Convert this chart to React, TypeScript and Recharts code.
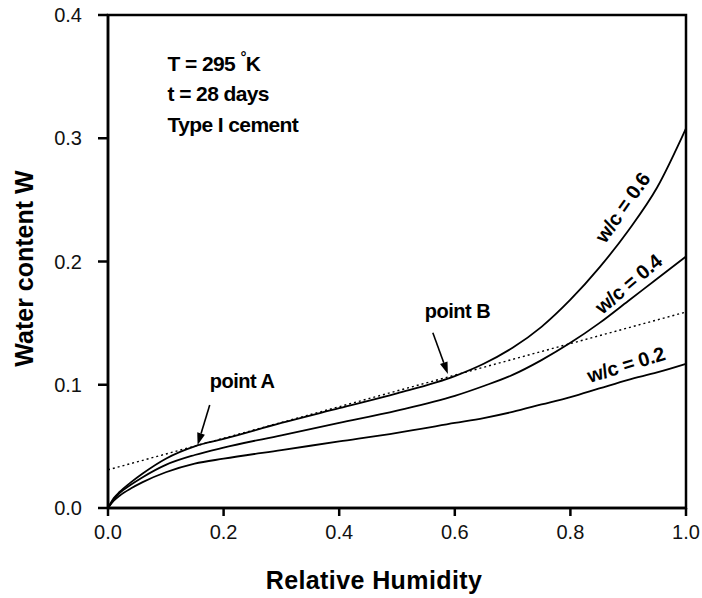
import { Line, LineChart, ReferenceArea, ReferenceDot, ReferenceLine, XAxis, YAxis, Label } from "recharts";

// relative humidity sample points
const humidity = [0, 0.01, 0.02, 0.04, 0.06, 0.1, 0.15, 0.2, 0.3, 0.4, 0.5, 0.6, 0.65, 0.7, 0.75, 0.8, 0.85, 0.9, 0.95, 1.0];
// water content W for each w/c ratio
const wc06 = [0, 0.008, 0.013, 0.021, 0.028, 0.04, 0.05, 0.056, 0.069, 0.081, 0.093, 0.107, 0.117, 0.13, 0.147, 0.169, 0.195, 0.225, 0.26, 0.308];
const wc04 = [0, 0.007, 0.012, 0.019, 0.025, 0.035, 0.043, 0.049, 0.059, 0.069, 0.079, 0.091, 0.099, 0.108, 0.12, 0.134, 0.15, 0.168, 0.186, 0.204];
const wc02 = [0, 0.006, 0.01, 0.016, 0.021, 0.029, 0.036, 0.04, 0.047, 0.054, 0.061, 0.069, 0.073, 0.078, 0.084, 0.09, 0.097, 0.104, 0.11, 0.117];
// dotted tangent line
const tangentRh = [0, 1];
const tangentW = [0.031, 0.159];

const xTicks = [0, 0.2, 0.4, 0.6, 0.8, 1.0];
const yTicks = [0, 0.1, 0.2, 0.3, 0.4];

const rows = humidity.map((rh, i) => ({ rh, wc06: wc06[i], wc04: wc04[i], wc02: wc02[i] }));
const tangent = tangentRh.map((rh, i) => ({ rh, tangent: tangentW[i] }));

const FONT = "'Liberation Sans', Arial, Helvetica, sans-serif";

// annotation placements (data coordinates)
const notes = [
  { x: 0.103, y: 0.3546, text: "T = 295 ", deg: true },
  { x: 0.103, y: 0.3302, text: "t = 28 days" },
  { x: 0.103, y: 0.305, text: "Type I cement" },
];
const curveLabels = [
  { x: 0.89, y: 0.244, text: "w/c = 0.6", angle: -55 },
  { x: 0.9, y: 0.182, text: "w/c = 0.4", angle: -40 },
  { x: 0.896, y: 0.1165, text: "w/c = 0.2", angle: -17 },
];
const pointLabels = [
  { x: 0.176, y: 0.0974, text: "point A" },
  { x: 0.548, y: 0.154, text: "point B" },
];
const arrows = [
  { from: { x: 0.176, y: 0.0836 }, to: { x: 0.155, y: 0.0511 } },
  { from: { x: 0.562, y: 0.1422 }, to: { x: 0.588, y: 0.1087 } },
];

const Arrow = (props: any) => {
  const { x1, y1, x2, y2 } = props;
  const ang = Math.atan2(y2 - y1, x2 - x1);
  const len = 12;
  const w = 4;
  const bx = x2 - len * Math.cos(ang);
  const by = y2 - len * Math.sin(ang);
  const px = -Math.sin(ang) * w;
  const py = Math.cos(ang) * w;
  return (
    <g>
      <line x1={x1} y1={y1} x2={bx} y2={by} stroke="#000" strokeWidth={1.6} />
      <polygon points={`${x2},${y2} ${bx + px},${by + py} ${bx - px},${by - py}`} fill="#000" />
    </g>
  );
};

const App = () => {
  return (
    <div style={{ position: "absolute", left: 0, top: 0, background: "#fff" }}>
      <LineChart width={702} height={598} data={rows} margin={{ top: 15, right: 16, bottom: 30, left: 28 }}>
        <XAxis
          dataKey="rh"
          type="number"
          domain={[0, 1]}
          ticks={xTicks}
          tickFormatter={(v) => v.toFixed(1)}
          height={60}
          stroke="#000"
          strokeWidth={2.5}
          tickSize={8}
          tickMargin={9}
          tick={{ fill: "#111", fontSize: 20, fontFamily: FONT }}
        >
          <Label
            content={(p: any) => {
              const vb = p.viewBox;
              return (
                <text
                  x={vb.x + vb.width / 2 - 23}
                  y={589}
                  textAnchor="middle"
                  fontFamily={FONT}
                  fontWeight="bold"
                  fontSize={25}
                  letterSpacing={0.4}
                  fill="#000"
                >
                  Relative Humidity
                </text>
              );
            }}
          />
        </XAxis>
        <YAxis
          type="number"
          domain={[0, 0.4]}
          ticks={yTicks}
          tickFormatter={(v) => v.toFixed(1)}
          width={80}
          stroke="#000"
          strokeWidth={2.5}
          tickSize={10}
          tickMargin={16}
          tick={{ fill: "#111", fontSize: 20, fontFamily: FONT }}
        >
          <Label
            content={(p: any) => {
              const vb = p.viewBox;
              const cy = vb.y + vb.height / 2 + 7;
              return (
                <text
                  transform={`translate(24,${cy}) rotate(-90)`}
                  textAnchor="middle"
                  dy="0.36em"
                  fontFamily={FONT}
                  fontWeight="bold"
                  fontSize={25}
                  fill="#000"
                >
                  Water content W
                </text>
              );
            }}
          />
        </YAxis>
        <ReferenceArea x1={0} x2={1} y1={0} y2={0.4} fill="none" stroke="#000" strokeWidth={2.5} ifOverflow="visible" />
        <Line
          data={tangent}
          dataKey="tangent"
          type="linear"
          stroke="#000"
          strokeWidth={1.4}
          strokeDasharray="2 3"
          dot={false}
          isAnimationActive={false}
        />
        <Line dataKey="wc06" type="monotone" stroke="#000" strokeWidth={1.8} dot={false} isAnimationActive={false} />
        <Line dataKey="wc04" type="monotone" stroke="#000" strokeWidth={1.8} dot={false} isAnimationActive={false} />
        <Line dataKey="wc02" type="monotone" stroke="#000" strokeWidth={1.8} dot={false} isAnimationActive={false} />
        {arrows.map((a, i) => (
          <ReferenceLine
            key={"ar" + i}
            segment={[a.from, a.to]}
            ifOverflow="visible"
            shape={(p: any) => <Arrow {...p} />}
          />
        ))}
        {notes.map((n, i) => (
          <ReferenceDot
            key={"n" + i}
            x={n.x}
            y={n.y}
            r={0}
            ifOverflow="visible"
            shape={(p: any) => (
              <text x={p.cx} y={p.cy} fontFamily={FONT} fontWeight="bold" fontSize={21} letterSpacing={-0.6} fill="#000">
                {n.text}
                {n.deg ? (
                  <>
                    <tspan dy={-9} fontSize={15}>°</tspan>
                    <tspan dy={9}>K</tspan>
                  </>
                ) : null}
              </text>
            )}
          />
        ))}
        {pointLabels.map((n, i) => (
          <ReferenceDot
            key={"p" + i}
            x={n.x}
            y={n.y}
            r={0}
            ifOverflow="visible"
            shape={(p: any) => (
              <text x={p.cx} y={p.cy} fontFamily={FONT} fontWeight="bold" fontSize={20} letterSpacing={-0.5} fill="#000">
                {n.text}
              </text>
            )}
          />
        ))}
        {curveLabels.map((n, i) => (
          <ReferenceDot
            key={"c" + i}
            x={n.x}
            y={n.y}
            r={0}
            ifOverflow="visible"
            shape={(p: any) => (
              <text
                transform={`translate(${p.cx},${p.cy}) rotate(${n.angle})`}
                textAnchor="middle"
                dy="0.36em"
                fontFamily={FONT}
                fontWeight="bold"
                fontSize={20}
                letterSpacing={-0.3}
                fill="#000"
              >
                {n.text}
              </text>
            )}
          />
        ))}
      </LineChart>
    </div>
  );
};

export default App;
